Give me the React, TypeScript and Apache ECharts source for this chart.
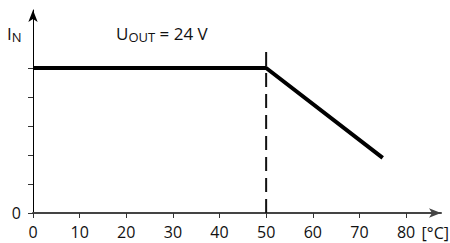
import React, { useEffect, useRef } from "react";
import * as echarts from "echarts";

const xTicks = [0, 10, 20, 30, 40, 50, 60, 70, 80];
const yTicks = [0, 1, 2, 3, 4, 5];
const yLabels = [0];
const curveX = [0, 50, 75];
const curveY = [5, 5, 1.9];
const dashX = [50, 50];
const dashY = [0, 5.75];
const xUnit = "[°C]";
const yName = ["I", "N"];
const annotation = ["U", "OUT", " = 24 V"];

const FONT = "'Open Sans', 'Noto Sans', sans-serif";

export default function App() {
  const ref = useRef<HTMLDivElement>(null);
  useEffect(() => {
    if (!ref.current) return;
    const chart = echarts.init(ref.current, null, { renderer: "svg" });
    chart.setOption({
      animation: false,
      grid: { left: 33, right: 9, top: 10, bottom: 30 },
      xAxis: {
        type: "value",
        min: 0,
        max: 87.5,
        interval: 10,
        axisLine: {
          show: true,
          symbol: ["none", "arrow"],
          symbolSize: [7, 12],
          lineStyle: { color: "#444", width: 2 },
        },
        axisTick: {
          show: true,
          customValues: xTicks,
          length: 5,
          lineStyle: { color: "#333", width: 1 },
        },
        axisLabel: {
          customValues: xTicks,
          fontSize: 16,
          margin: 11,
          color: "#111",
          fontFamily: FONT,
        },
        splitLine: { show: false },
      },
      yAxis: {
        type: "value",
        min: 0,
        max: 7,
        interval: 1,
        axisLine: {
          show: true,
          symbol: ["none", "arrow"],
          symbolSize: [7, 12],
          lineStyle: { color: "#000", width: 1 },
        },
        axisTick: {
          show: true,
          customValues: yTicks,
          length: 5,
          lineStyle: { color: "#333", width: 1 },
        },
        axisLabel: {
          customValues: yLabels,
          fontSize: 16,
          margin: 12,
          color: "#111",
          fontFamily: FONT,
        },
        splitLine: { show: false },
      },
      series: [
        {
          type: "line",
          data: curveX.map((x, i) => [x, curveY[i]]),
          symbol: "none",
          lineStyle: { color: "#000", width: 4 },
          z: 3,
        },
        {
          type: "line",
          data: dashX.map((x, i) => [x, dashY[i]]),
          symbol: "none",
          lineStyle: { color: "#111", width: 2, type: [14, 7] },
          z: 2,
        },
      ],
      graphic: [
        {
          type: "text",
          x: 7,
          y: 24,
          style: {
            text: `{a|${yName[0]}}{b|${yName[1]}}`,
            fontFamily: FONT,
            fill: "#111",
            rich: {
              a: { fontSize: 17, lineHeight: 19, fontFamily: FONT, fill: "#111" },
              b: { fontSize: 13, lineHeight: 14, verticalAlign: "bottom", fontFamily: FONT, fill: "#111" },
            },
          },
        },
        {
          type: "text",
          x: 116,
          y: 24,
          style: {
            text: `{a|${annotation[0]}}{b|${annotation[1]}}{a|${annotation[2]}}`,
            fontFamily: FONT,
            fill: "#111",
            rich: {
              a: { fontSize: 17, lineHeight: 19, fontFamily: FONT, fill: "#111" },
              b: { fontSize: 13, lineHeight: 14, verticalAlign: "bottom", fontFamily: FONT, fill: "#111" },
            },
          },
        },
        {
          type: "text",
          x: 449,
          y: 233,
          style: {
            text: xUnit,
            fontSize: 16,
            fontFamily: FONT,
            fill: "#111",
            align: "right",
            verticalAlign: "middle",
          },
        },
      ],
    });
    return () => chart.dispose();
  }, []);
  return <div ref={ref} style={{ width: 450, height: 243, position: "absolute", left: 0, top: 0 }} />;
}
